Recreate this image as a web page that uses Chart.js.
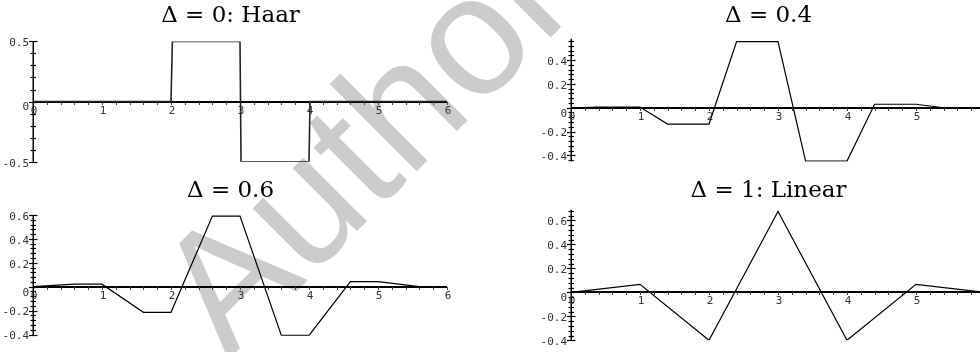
<!DOCTYPE html>
<html>
<head>
<meta charset="utf-8">
<script src="https://cdn.jsdelivr.net/npm/chart.js@4.4.1/dist/chart.umd.min.js"></script>
<style>
  html, body { margin: 0; padding: 0; background: #fff; }
  body { width: 980px; height: 352px; position: relative; overflow: hidden; }
  .panel { position: absolute; width: 460px; height: 176px; z-index: 1; }
  #wm { position: absolute; left: 228px; top: 360px; width: 0; height: 0;
        transform-origin: 0 0; transform: rotate(-45deg); z-index: 0; }
  #wm span { position: absolute; left: 0; top: -144px; line-height: 1;
        font-family: "Liberation Sans", Arial, sans-serif; font-size: 170px;
        color: #cccccc; white-space: nowrap; }
</style>
</head>
<body>
<div id="wm"><span>Author</span></div>
<canvas id="c1" class="panel" width="460" height="176" style="left:0;top:0"></canvas>
<canvas id="c2" class="panel" width="460" height="176" style="left:540px;top:0"></canvas>
<canvas id="c3" class="panel" width="460" height="176" style="left:0;top:176px"></canvas>
<canvas id="c4" class="panel" width="460" height="176" style="left:540px;top:176px"></canvas>
<script>
// --- data ---
const titles = ['Δ = 0: Haar', 'Δ = 0.4', 'Δ = 0.6', 'Δ = 1: Linear'];

const haarX = [0, 2, 2.02, 3, 3.015, 4, 4.015, 6];
const haarY = [0, 0, 0.5, 0.5, -0.5, -0.5, 0, 0];

const d04X = [0, 0.4, 1, 1.4, 2, 2.4, 3, 3.4, 4, 4.4, 5, 5.4, 6];
const d04Y = [0, 0.006, 0.006, -0.137, -0.137, 0.555, 0.555, -0.448, -0.448, 0.029, 0.029, 0, 0];

const d06X = [0, 0.6, 1, 1.6, 2, 2.6, 3, 3.6, 4, 4.6, 5, 5.6, 6];
const d06Y = [0, 0.021, 0.021, -0.214, -0.214, 0.591, 0.591, -0.408, -0.408, 0.043, 0.043, 0, 0];

const linX = [0, 1, 2, 3, 4, 5, 6];
const linY = [0, 0.067, -0.4, 0.675, -0.4, 0.067, 0];

const xTickValues = [0, 1, 2, 3, 4, 5, 6];
const xTickLabels = ['0', '1', '2', '3', '4', '5', '6'];
const haarYTickValues = [-0.5, 0, 0.5];
const haarYTickLabels = ['-0.5', '0', '0.5'];
const yTickValues = [-0.4, -0.2, 0, 0.2, 0.4, 0.6];
const yTickLabels = ['-0.4', '-0.2', '0', '0.2', '0.4', '0.6'];

function labelFor(values, labels) {
    return v => {
        const i = values.findIndex(t => Math.abs(t - v) < 1e-6);
        return i >= 0 ? labels[i] : '';
    };
}

// axes crossing at the origin, maple style
const mapleAxes = {
    id: 'mapleAxes',
    beforeDatasetsDraw(chart) {
        const { ctx, chartArea, scales: { x, y } } = chart;
        const x0 = Math.round(x.getPixelForValue(0));
        const y0 = Math.round(y.getPixelForValue(0));
        const xEnd = x.getPixelForValue(6);
        ctx.save();
        ctx.strokeStyle = '#000';

        ctx.lineWidth = 2;
        ctx.beginPath();
        ctx.moveTo(x0, y0);
        ctx.lineTo(xEnd, y0);
        ctx.stroke();

        ctx.lineWidth = 1.5;
        ctx.beginPath();
        ctx.moveTo(x0 + 0.25, chartArea.top);
        ctx.lineTo(x0 + 0.25, chartArea.bottom);
        ctx.stroke();

        ctx.lineWidth = 1;
        ctx.strokeStyle = '#444';
        x.ticks.forEach(t => {
            if (t.value < 0.1 || t.value > 6 + 1e-6) return;
            const px = Math.round(x.getPixelForValue(t.value)) + 0.5;
            ctx.beginPath();
            ctx.moveTo(px, y0);
            ctx.lineTo(px, y0 + 3);
            ctx.stroke();
        });

        ctx.strokeStyle = '#000';
        ctx.lineWidth = 1.2;
        y.ticks.forEach(t => {
            const py = Math.round(y.getPixelForValue(t.value)) + 0.5;
            const half = t.label ? 4 : 2.5;
            ctx.beginPath();
            ctx.moveTo(x0 - half, py);
            ctx.lineTo(x0 + half + 0.5, py);
            ctx.stroke();
        });

        ctx.font = '11px "DejaVu Sans Mono", monospace';
        ctx.fillStyle = '#333';
        ctx.textAlign = 'center';
        ctx.textBaseline = 'top';
        x.ticks.forEach(t => {
            if (t.label) ctx.fillText(t.label, x.getPixelForValue(t.value) + 1, y0 + 4);
        });
        ctx.textAlign = 'right';
        ctx.textBaseline = 'middle';
        y.ticks.forEach(t => {
            if (!t.label) return;
            const dy = Math.abs(t.value) < 1e-9 ? 6 : 2;
            ctx.fillText(t.label, x0 - 4, y.getPixelForValue(t.value) + dy);
        });
        ctx.restore();
    }
};

function makePanel(id, title, xs, ys, opts) {
    const ctx = document.getElementById(id).getContext('2d');
    return new Chart(ctx, {
        type: 'scatter',
        data: {
            datasets: [{
                data: xs.map((x, i) => ({ x: x, y: ys[i] })),
                showLine: true,
                borderColor: opts.color || '#000',
                borderWidth: opts.width || 1.2,
                pointRadius: 0,
                fill: false,
                tension: 0,
            }]
        },
        options: {
            responsive: false,
            animation: false,
            events: [],
            layout: { padding: opts.padding },
            plugins: {
                legend: { display: false },
                tooltip: { enabled: false },
                title: {
                    display: true,
                    text: title,
                    color: '#000',
                    font: { family: '"DejaVu Serif", serif', size: 23, weight: 'normal', lineHeight: 1.2 },
                    padding: { top: 0, bottom: opts.titleGap },
                }
            },
            scales: {
                x: {
                    type: 'linear', display: false, min: -0.2754, max: 6,
                    ticks: { stepSize: 0.2, autoSkip: false, includeBounds: false,
                             callback: labelFor(xTickValues, xTickLabels) }
                },
                y: {
                    type: 'linear', display: false, min: opts.yMin, max: opts.yMax,
                    ticks: { stepSize: opts.yStep, autoSkip: false, includeBounds: false,
                             callback: labelFor(opts.yVals, opts.yLabels) }
                }
            }
        },
        plugins: [mapleAxes]
    });
}

makePanel('c1', titles[0], haarX, haarY, {
    yMin: -0.5, yMax: 0.5, yStep: 0.1, yVals: haarYTickValues, yLabels: haarYTickLabels,
    padding: { left: 14, right: 13, top: 2, bottom: 14.3 }, titleGap: 11.8, color: '#222', width: 1.6
});
makePanel('c2', titles[1], d04X, d04Y, {
    yMin: -0.451, yMax: 0.58, yStep: 0.04, yVals: yTickValues, yLabels: yTickLabels,
    padding: { left: 12, right: 15, top: 2, bottom: 14.6 }, titleGap: 9.1
});
makePanel('c3', titles[2], d06X, d06Y, {
    yMin: -0.41, yMax: 0.6, yStep: 0.04, yVals: yTickValues, yLabels: yTickLabels,
    padding: { left: 14, right: 13, top: 1, bottom: 16.3 }, titleGap: 10.4
});
makePanel('c4', titles[3], linX, linY, {
    yMin: -0.4, yMax: 0.69, yStep: 0.04, yVals: yTickValues, yLabels: yTickLabels,
    padding: { left: 12, right: 15, top: 1, bottom: 11.7 }, titleGap: 5.1
});
</script>
</body>
</html>
